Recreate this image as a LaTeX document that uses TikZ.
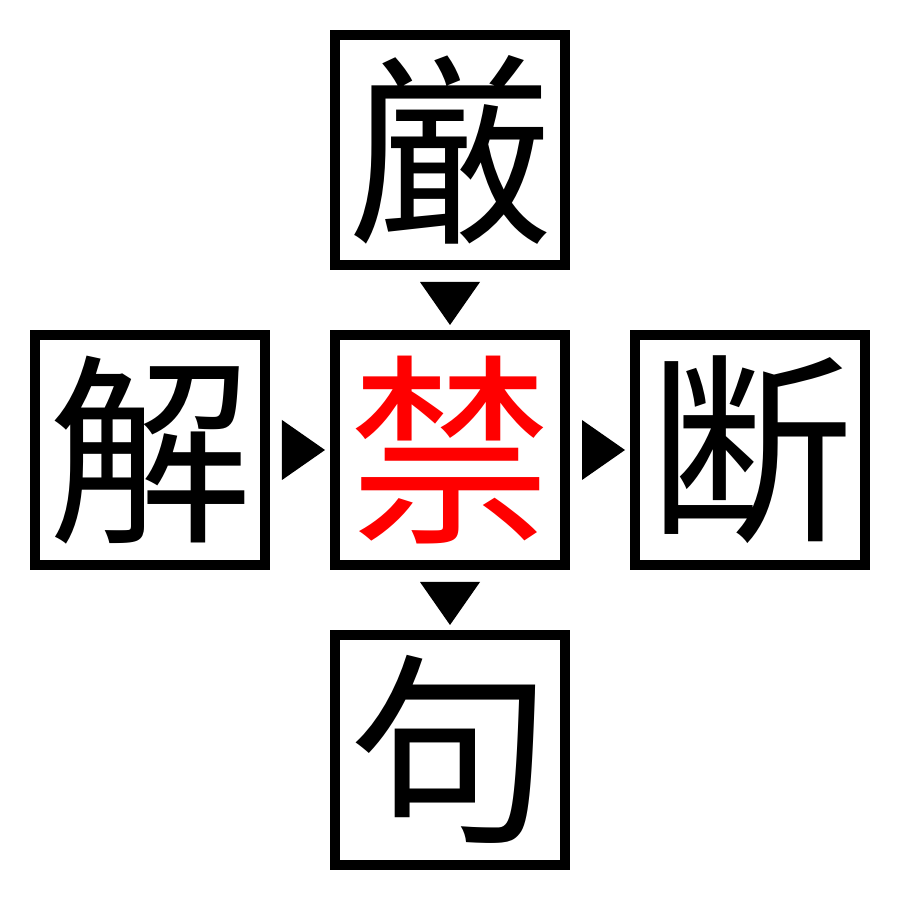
\documentclass[tikz,border=0pt]{standalone}
\usepackage{fontspec}
\newfontfamily\cjk{Noto Sans CJK JP}
\usetikzlibrary{positioning,calc}

\tikzset{
  kbox/.style={draw, line width=0.1cm, minimum size=2.3cm, inner sep=0pt,
    font=\cjk\fontsize{58}{58}\selectfont},
  tri/.style={fill=black}
}

\begin{document}
\begin{tikzpicture}
			\useasboundingbox (0,0) rectangle (9,9);
			\node[kbox, text=red] (mid) at (4.5,4.5) {禁};
			\node[kbox, above=0.6cm of mid] (top) {厳};
			\node[kbox, below=0.6cm of mid] (bot) {句};
			\node[kbox, left=0.6cm of mid] (lft) {解};
			\node[kbox, right=0.6cm of mid] (rgt) {断};
			% triangles between the boxes
			\fill[tri] ($(top.south)+(-0.3,-0.12)$) -- ($(top.south)+(0.3,-0.12)$) -- ($(mid.north)+(0,0.05)$) -- cycle;
			\fill[tri] ($(mid.south)+(-0.3,-0.12)$) -- ($(mid.south)+(0.3,-0.12)$) -- ($(bot.north)+(0,0.05)$) -- cycle;
			\fill[tri] ($(lft.east)+(0.12,0.3)$) -- ($(lft.east)+(0.12,-0.3)$) -- ($(mid.west)+(-0.05,0)$) -- cycle;
			\fill[tri] ($(mid.east)+(0.12,0.3)$) -- ($(mid.east)+(0.12,-0.3)$) -- ($(rgt.west)+(-0.05,0)$) -- cycle;
		\end{tikzpicture}
\end{document}
